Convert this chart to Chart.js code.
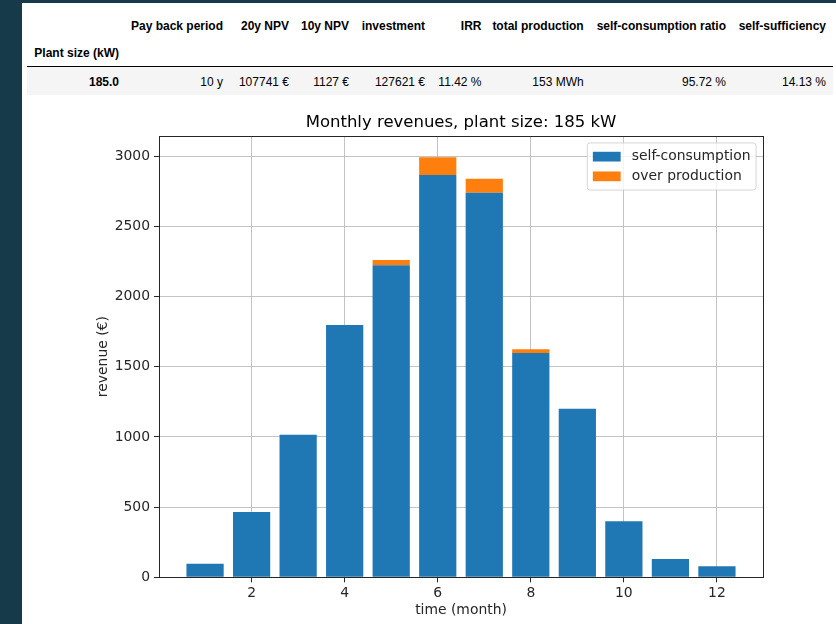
<!DOCTYPE html>
<html>
<head>
<meta charset="utf-8">
<script src="https://cdn.jsdelivr.net/npm/chart.js@4/dist/chart.umd.min.js"></script>
<style>
  html, body { margin: 0; padding: 0; background: #ffffff; }
  body { width: 836px; height: 624px; position: relative; overflow: hidden; font-family: "Liberation Sans", Arial, sans-serif; }
  #side { position: absolute; left: 0; top: 0; width: 22px; height: 624px; background: #163a4a; }
  #topband { position: absolute; left: 0; top: 0; width: 836px; height: 3px; background: #163a4a; }
  .cell { position: absolute; font-size: 12px; line-height: 14px; color: #000; white-space: nowrap; text-align: right; }
  .hd { font-weight: bold; }
  #rule { position: absolute; left: 27px; top: 66px; width: 806px; height: 1px; background: #000; }
  #rowbg { position: absolute; left: 27px; top: 67px; width: 806px; height: 28px; background: #f5f5f5; }
  #wrap { position: absolute; left: 0; top: 100px; width: 836px; height: 524px; }
</style>
</head>
<body>
<div id="side"></div>
<div id="topband"></div>
<div id="rowbg"></div>
<div id="rule"></div>
<div id="table"></div>
<div id="wrap"><canvas id="c" width="836" height="524"></canvas></div>
<script>
// ---- table data ----
const tableHeaders = ['Pay back period', '20y NPV', '10y NPV', 'investment', 'IRR', 'total production', 'self-consumption ratio', 'self-sufficiency'];
const indexName = 'Plant size (kW)';
const rowIndex = '185.0';
const rowValues = ['10 y', '107741 €', '1127 €', '127621 €', '11.42 %', '153 MWh', '95.72 %', '14.13 %'];

// ---- chart data ----
const chartTitle = 'Monthly revenues, plant size: 185 kW';
const months = [1, 2, 3, 4, 5, 6, 7, 8, 9, 10, 11, 12];
const selfConsumption = [97, 465, 1016, 1797, 2222, 2865, 2739, 1597, 1201, 399, 130, 78];
const overProduction = [0, 0, 0, 0, 38, 126, 100, 27, 0, 0, 0, 0];
const seriesLabels = ['self-consumption', 'over production'];
const xTicks = [2, 4, 6, 8, 10, 12];
const yTicks = [0, 500, 1000, 1500, 2000, 2500, 3000];
const xLabel = 'time (month)';
const yLabel = 'revenue (€)';
const xMin = 0.01, xMax = 12.99, yMin = 0, yMax = 3143;

// ---- table layout ----
const colRight = [223, 289, 349, 425, 481.5, 583.7, 726, 826];
const indexRight = 119;
const tbl = document.getElementById('table');
function addCell(text, right, top, bold) {
  const d = document.createElement('div');
  d.className = 'cell' + (bold ? ' hd' : '');
  d.textContent = text;
  d.style.right = (836 - right) + 'px';
  d.style.top = top + 'px';
  tbl.appendChild(d);
}
tableHeaders.forEach((h, i) => addCell(h, colRight[i], 18.9, true));
addCell(indexName, indexRight, 45.6, true);
addCell(rowIndex, indexRight, 74.8, true);
rowValues.forEach((v, i) => addCell(v, colRight[i], 74.8, false));

// ---- chart ----
const FONT = 'DejaVu Sans';
const TICK = 13.9;

const frameAndLegend = {
  id: 'frameAndLegend',
  afterDraw(chart) {
    const ctx = chart.ctx;
    const a = chart.chartArea;
    ctx.save();
    // spines
    ctx.strokeStyle = '#262626';
    ctx.lineWidth = 1;
    ctx.strokeRect(Math.round(a.left) + 0.5, Math.round(a.top) + 0.5,
                   Math.round(a.right) - Math.round(a.left), Math.round(a.bottom) - Math.round(a.top));
    // legend
    const fs = TICK;
    ctx.font = fs + 'px "' + FONT + '"';
    const ds = chart.data.datasets;
    let maxW = 0;
    ds.forEach(d => { maxW = Math.max(maxW, ctx.measureText(d.label).width); });
    const pad = 0.4 * fs, hl = 2.0 * fs, htp = 0.8 * fs, rowH = 19.7;
    const boxW = pad + hl + htp + maxW + pad;
    const boxH = pad * 2 + rowH * ds.length - (rowH - fs * 1.17);
    const bx = a.right - 0.5 * fs - boxW;
    const by = a.top + 0.5 * fs;
    const r = 0.2 * fs;
    ctx.beginPath();
    ctx.moveTo(bx + r, by);
    ctx.lineTo(bx + boxW - r, by);
    ctx.quadraticCurveTo(bx + boxW, by, bx + boxW, by + r);
    ctx.lineTo(bx + boxW, by + boxH - r);
    ctx.quadraticCurveTo(bx + boxW, by + boxH, bx + boxW - r, by + boxH);
    ctx.lineTo(bx + r, by + boxH);
    ctx.quadraticCurveTo(bx, by + boxH, bx, by + boxH - r);
    ctx.lineTo(bx, by + r);
    ctx.quadraticCurveTo(bx, by, bx + r, by);
    ctx.closePath();
    ctx.fillStyle = 'rgba(255,255,255,0.8)';
    ctx.fill();
    ctx.strokeStyle = 'rgba(204,204,204,0.8)';
    ctx.stroke();
    ds.forEach((d, i) => {
      const cy = by + pad + fs * 0.585 + i * rowH;
      ctx.fillStyle = d.backgroundColor;
      ctx.fillRect(bx + pad, cy - 0.35 * fs, hl, 0.7 * fs);
      ctx.fillStyle = '#262626';
      ctx.textBaseline = 'middle';
      ctx.textAlign = 'left';
      ctx.fillText(d.label, bx + pad + hl + htp, cy);
    });
    ctx.restore();
  }
};

new Chart(document.getElementById('c'), {
  type: 'bar',
  data: {
    datasets: [
      { label: seriesLabels[0], data: months.map((m, i) => ({ x: m, y: selfConsumption[i] })), backgroundColor: '#1f77b4', borderWidth: 0 },
      { label: seriesLabels[1], data: months.map((m, i) => ({ x: m, y: overProduction[i] })), backgroundColor: '#ff7f0e', borderWidth: 0 }
    ]
  },
  options: {
    responsive: false,
    animation: false,
    devicePixelRatio: 1,
    categoryPercentage: 1.0,
    barPercentage: 0.8,
    layout: { padding: { left: 0, right: 73, top: 0, bottom: 0 } },
    plugins: {
      legend: { display: false },
      tooltip: { enabled: false },
      title: {
        display: true, text: chartTitle, color: '#000', fullSize: false,
        font: { family: FONT, size: 16.5, weight: 'normal' },
        padding: { top: 12.6, bottom: 3.6 }
      }
    },
    scales: {
      x: {
        type: 'linear', stacked: true, min: xMin, max: xMax, z: 1, offset: false,
        afterBuildTicks: s => { s.ticks = xTicks.map(v => ({ value: v })); },
        afterFit: s => { s.height = 46.7; },
        grid: { offset: false, color: 'rgba(176,176,176,0.75)', lineWidth: 1, tickLength: 5, tickColor: '#262626', drawTicks: true },
        border: { display: false },
        ticks: { color: '#262626', padding: 3, font: { family: FONT, size: TICK }, maxRotation: 0, callback: v => String(v) },
        title: { display: true, text: xLabel, color: '#262626', font: { family: FONT, size: TICK }, padding: { top: 0, bottom: 5.2 } }
      },
      y: {
        type: 'linear', stacked: true, min: yMin, max: yMax, z: 1,
        afterBuildTicks: s => { s.ticks = yTicks.map(v => ({ value: v })); },
        afterFit: s => { s.width = 159; },
        grid: { color: 'rgba(176,176,176,0.75)', lineWidth: 1, tickLength: 5, tickColor: '#262626', drawTicks: true },
        border: { display: false },
        ticks: { color: '#262626', padding: 4, font: { family: FONT, size: TICK }, callback: v => String(v) },
        title: { display: true, text: yLabel, color: '#262626', font: { family: FONT, size: TICK }, padding: { top: 94.7, bottom: 0 } }
      }
    }
  },
  plugins: [frameAndLegend]
});
</script>
</body>
</html>
